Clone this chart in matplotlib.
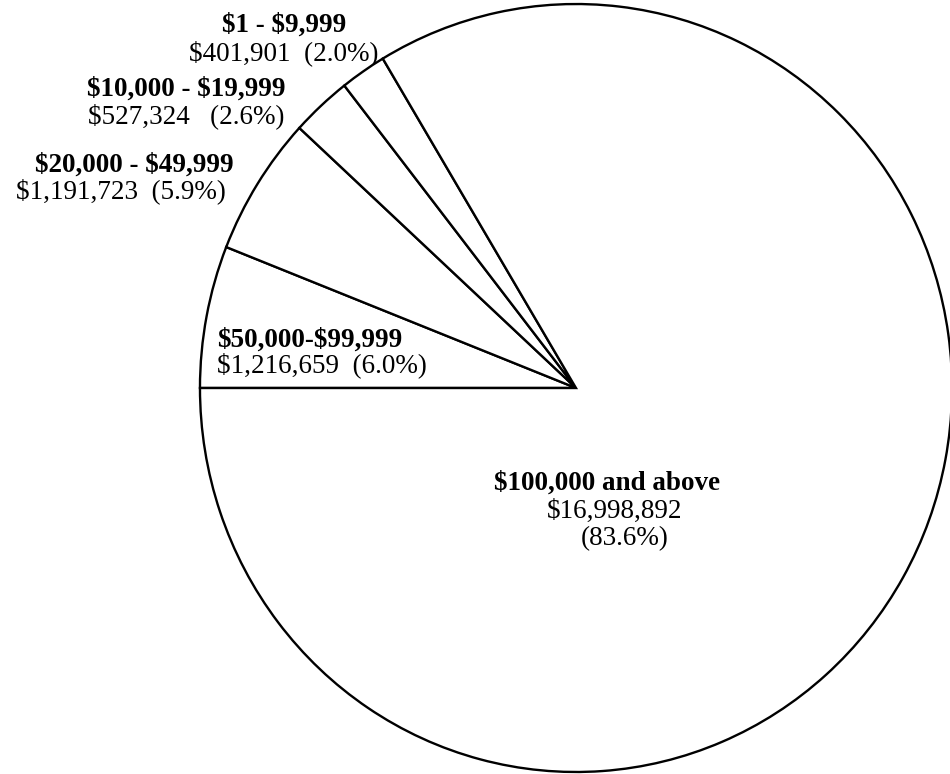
import matplotlib.pyplot as plt

# Faixas de doação (ordem no sentido horário a partir das 9 horas)
faixas = ["$50,000-$99,999", "$20,000 - $49,999", "$10,000 - $19,999",
          "$1 - $9,999", "$100,000 and above"]
totais = [1216659, 1191723, 527324, 401901, 16998892]
valores_txt = ["$1,216,659  (6.0%)", "$1,191,723  (5.9%)", "$527,324   (2.6%)",
               "$401,901  (2.0%)", "$16,998,892"]
pct_grande = "(83.6%)"

plt.rcParams['font.family'] = ['Liberation Serif', 'DejaVu Serif']

fig = plt.figure(figsize=(9.5, 7.74), dpi=100)
ax = fig.add_axes([0.2105, 0.0026, 0.7916, 0.9922])

ax.pie(totais, startangle=180, counterclock=False,
       colors=["white"] * len(totais),
       wedgeprops=dict(edgecolor="black", linewidth=1.7))
ax.set_aspect('auto')
ax.set_xlim(-1, 1)
ax.set_ylim(-1, 1)
ax.axis('off')

FS = 19.5


def rotulo(linha1, linha2, x, y1, y2, ha="center", x2=None):
    # posições em pixels da figura (origem no topo)
    if x2 is None:
        x2 = x
    ax.annotate(linha1, xy=(x, 774 - y1), xycoords='figure pixels',
                ha=ha, va='baseline', fontsize=FS, fontweight='bold',
                parse_math=False)
    ax.annotate(linha2, xy=(x2, 774 - y2), xycoords='figure pixels',
                ha=ha, va='baseline', fontsize=FS, parse_math=False)


rotulo(faixas[3], valores_txt[3], 284, 32, 60)
rotulo(faixas[2], valores_txt[2], 186, 96, 123)
rotulo(faixas[1], valores_txt[1], 134, 172, 198, x2=121)
rotulo(faixas[0], valores_txt[0], 217, 347, 372, ha="left")
rotulo(faixas[4], valores_txt[4], 607, 490, 518, x2=615)
ax.annotate(pct_grande, xy=(625, 774 - 545), xycoords='figure pixels',
            ha='center', va='baseline', fontsize=FS, parse_math=False)

plt.savefig("out.png", dpi=100)
